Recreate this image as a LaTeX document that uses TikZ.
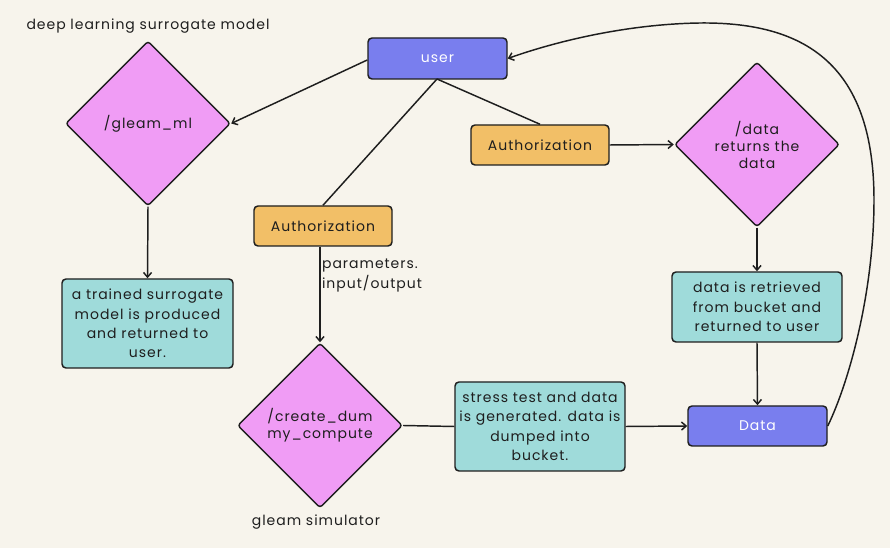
\documentclass[tikz,border=0pt]{standalone}
\usepackage{fontspec}
\setmainfont[LetterSpace=7]{Poppins}
\usetikzlibrary{shapes.geometric,arrows.meta}
\newdimen\pxu \pxu=0.75pt
\definecolor{bgc}{HTML}{F7F4EC}
\definecolor{bluec}{HTML}{797EEE}
\definecolor{orangec}{HTML}{F2BF67}
\definecolor{pinkc}{HTML}{F09CF5}
\definecolor{tealc}{HTML}{9FDBDA}
\definecolor{inkc}{HTML}{1E1E1E}
\tikzset{
  base/.style={draw=inkc, line width=1.1pt, rounded corners=4\pxu, inner sep=0pt,
    font=\fontsize{10.5}{14.5}\selectfont, text=inkc, align=center},
  bluebox/.style={base, fill=bluec, text=white, minimum width=139\pxu, minimum height=41\pxu},
  authbox/.style={base, fill=orangec, minimum width=138\pxu, minimum height=40\pxu},
  tealbox/.style={base, fill=tealc, minimum width=170\pxu},
  decision/.style={base, shape=diamond, fill=pinkc, minimum width=165\pxu, minimum height=165\pxu,
    rounded corners=3\pxu, font=\fontsize{10.5}{12.75}\selectfont},
  link/.style={draw=inkc, line width=1.1pt},
  arr/.style={link, -{Straight Barb[length=3.5pt,width=6pt]}},
  plain/.style={font=\fontsize{10.5}{14.5}\selectfont, text=inkc, inner sep=0pt},
}
\begin{document}
\begin{tikzpicture}[x=0.75pt,y=-0.75pt]
\fill[bgc] (0,0) rectangle (890,548);
\useasboundingbox (0,0) rectangle (890,548);

\node[bluebox] (user) at (437.5,58.5) {user};
\node[decision] (ml) at (148,123.5) {/gleam\_ml};
\node[plain] (mllabel) at (148,26) {deep learning surrogate model};
\node[authbox] (authL) at (323,226) {Authorization};
\node[authbox] (authR) at (540,145) {Authorization};
\node[decision] (dataD) at (757,144.5) {/data\\returns the\\data};
\node[tealbox, minimum height=70\pxu] (retr) at (757,307) {data is retrieved\\from bucket and\\returned to user};
\node[bluebox, minimum height=40\pxu] (data) at (757.5,426) {Data};
\node[decision] (dummy) at (320,425.5) {/create\_dum\\my\_compute};
\node[plain] (simlabel) at (316,522) {gleam simulator};
\node[tealbox, minimum height=89\pxu] (stress) at (540,426.5) {stress test and data\\is generated. data is\\dumped into\\bucket.};
\node[tealbox, minimum height=89\pxu, minimum width=171\pxu] (trained) at (147.5,323.5) {a trained surrogate\\model is produced\\and returned to\\user.};

\draw[arr] (user.west |- 0,60) -- (ml.east);
\draw[arr] (ml.south) -- (trained.north);
\draw[link] (437,79) -- (authL.north);
\draw[link] (437,79) -- (authR.north);
\draw[arr] (authR.east) -- (dataD.west);
\draw[arr] (dataD.south) -- (retr.north);
\draw[arr] (retr.south) -- (data.north);
\draw[arr] (authL.south -| 320,0) -- node[plain, right=1pt, align=left, pos=0.3] (params) {parameters.\\input/output} (dummy.north);
\draw[link] (dummy.east) -- (stress.west);
\draw[arr] (stress.east) -- (data.west);
\draw[arr] (data.east) .. controls (850,380) and (874,290) .. (874,200)
  .. controls (874,60) and (800,22) .. (700,23)
  .. controls (630,24) and (560,40) .. (user.east);
\end{tikzpicture}
\end{document}
